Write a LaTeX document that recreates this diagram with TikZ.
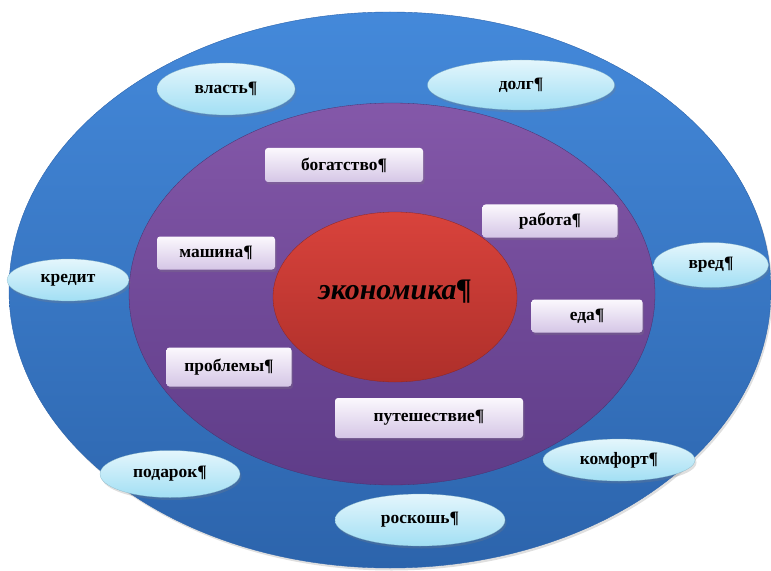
\documentclass[tikz,border=0pt]{standalone}
\usepackage{fontspec}
\setmainfont{Liberation Serif}
\usetikzlibrary{shapes.geometric,shadows}
\definecolor{ringblue}{HTML}{4489DA}
\definecolor{ringbluedark}{HTML}{2C64AC}
\definecolor{ringviolet}{HTML}{8458A9}
\definecolor{ringvioletdark}{HTML}{5E3C88}
\definecolor{corered}{HTML}{D9433C}
\definecolor{coreredd}{HTML}{AE2F2A}
\definecolor{bubtop}{HTML}{E4F6FC}
\definecolor{bubbot}{HTML}{A2DFF4}
\definecolor{tagtop}{HTML}{FBF8FD}
\definecolor{tagbot}{HTML}{D5C6E6}
\tikzset{
  softshadow/.style={drop shadow={opacity=0.25,shadow xshift=1.5bp,shadow yshift=-2.5bp}},
  bubble/.style={ellipse,inner sep=0pt,top color=bubtop,bottom color=bubbot,
    draw=bubbot!80!black,line width=0.2bp,softshadow,font=\bfseries\fontsize{17.5}{17.5}\selectfont},
  tag/.style={rectangle,rounded corners=3bp,inner sep=0pt,top color=tagtop,bottom color=tagbot,
    softshadow,font=\bfseries\fontsize{17.5}{17.5}\selectfont}
}
\begin{document}
\begin{tikzpicture}[x=1bp,y=-1bp]
\useasboundingbox (0,0) rectangle (771,571);
% rings
\draw[top color=ringblue,bottom color=ringbluedark,draw=ringbluedark,softshadow] (390,290) ellipse [x radius=381,y radius=278];
\draw[top color=ringviolet,bottom color=ringvioletdark,draw=ringvioletdark!80!black,line width=0.3bp] (392,294) ellipse [x radius=263,y radius=191];
\node[ellipse,minimum width=244bp,minimum height=170bp,top color=corered,bottom color=coreredd,
  draw=coreredd!80!black,line width=0.3bp] (econ) at (395,297) {};
\node[font=\bfseries\itshape\fontsize{30}{30}\selectfont] (econtext) at ([yshift=5bp]econ.center) {экономика¶};
% outer words
\node[bubble,minimum width=138bp,minimum height=52bp] (vlast) at (226,89) {власть¶};
\node[bubble,minimum width=187bp,minimum height=50bp] (dolg) at (521,85) {долг¶};
\node[bubble,minimum width=115bp,minimum height=45bp] (vred) at (711,265) {вред¶};
\node[bubble,minimum width=122bp,minimum height=42bp] (kredit) at (68,280) {кредит};
\node[bubble,minimum width=140bp,minimum height=47bp] (podarok) at (170,474) {подарок¶};
\node[bubble,minimum width=170bp,minimum height=52bp] (roskosh) at (420,520) {роскошь¶};
\node[bubble,minimum width=152bp,minimum height=42bp] (komfort) at (619,460) {комфорт¶};
% inner words
\node[tag,minimum width=158bp,minimum height=34bp] (bogat) at (344,165) {богатство¶};
\node[tag,minimum width=118bp,minimum height=33bp] (mashina) at (216,253) {машина¶};
\node[tag,minimum width=135bp,minimum height=33bp] (rabota) at (550,221) {работа¶};
\node[tag,minimum width=111bp,minimum height=33bp] (eda) at (587,316) {еда¶};
\node[tag,minimum width=125bp,minimum height=39bp] (problemy) at (229,367) {проблемы¶};
\node[tag,minimum width=188bp,minimum height=40bp] (puteshest) at (429,418) {путешествие¶};
\end{tikzpicture}
\end{document}
